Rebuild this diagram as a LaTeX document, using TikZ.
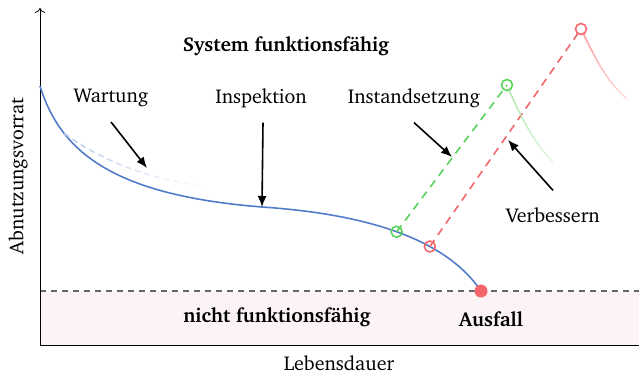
\documentclass[tikz,border=0pt]{standalone}
\usepackage[T1]{fontenc}
\usepackage{charter}
\usetikzlibrary{arrows.meta,fadings}

\definecolor{kurve}{RGB}{82,124,200}
\definecolor{gruen}{RGB}{88,210,88}
\definecolor{rot}{RGB}{245,102,108}
\definecolor{rosa}{RGB}{252,244,244}

\tikzfading[name=fadedown, top color=transparent!0, bottom color=transparent!70]
\tikzfading[name=faderight, left color=transparent!0, right color=transparent!100]

\begin{document}
\begin{tikzpicture}[x=0.5pt,y=-0.5pt,
  pfeil/.style={thick,-{Latex[length=5.5pt,width=4.5pt]}},
  marke/.style={circle,draw,line width=0.8pt,minimum size=5.5pt,inner sep=0pt},
  fett/.style={font=\bfseries},
  strich/.style={thick,dash pattern=on 4pt off 3pt}]
\useasboundingbox (0,0) rectangle (639,374);

% Bereich nicht funktionsfaehig
\fill[rosa] (40,291) rectangle (639,345);
\draw[gray!80!black,line width=0.7pt,dash pattern=on 3pt off 2.5pt] (40,291) -- (639,291);

% Achsen
\coordinate (ursprung) at (40,345);
\coordinate (yende) at (40,8);
\coordinate (xende) at (645,345);
\draw[->] (ursprung) -- (yende);
\draw[->] (ursprung) -- (xende);
\node (xlabel) at (339,363) {Lebensdauer};
\node[rotate=90] (ylabel) at (18,176) {Abnutzungsvorrat};

% Abnutzungskurve
\coordinate (anfang) at (40,86);
\coordinate (mitte) at (262,207);
\coordinate (pausfall) at (481,291);
\coordinate (pg2) at (507,85);
\coordinate (pr2) at (581,29);
\draw[kurve,thick] (anfang) .. controls (60,150) and (110,195) .. (mitte)
  coordinate[pos=0.27] (abzweig)
  .. controls (365,214) and (445,238) .. (pausfall)
  coordinate[pos=0.5] (pg1) coordinate[pos=0.66] (pr1);
\draw[kurve!40,thick,dash pattern=on 3pt off 2pt,path fading=faderight] (abzweig) .. controls (100,160) and (150,180) .. (205,186);

% Instandsetzung und Verbessern
\draw[gruen,strich] (pg1) -- (pg2);
\draw[rot,strich] (pr1) -- (pr2);
\draw[gruen!50,thick,path fading=fadedown] (509,90) .. controls (520,115) and (533,142) .. (553,162);
\draw[rot!65,thick,path fading=fadedown] (583,33) .. controls (594,55) and (605,80) .. (627,99);

\node[marke,gruen] (g1) at (pg1) {};
\node[marke,rot] (r1) at (pr1) {};
\node[marke,gruen] (g2) at (pg2) {};
\node[marke,rot] (r2) at (pr2) {};
\node[circle,fill=rot,minimum size=6.5pt,inner sep=0pt] (ausfall) at (pausfall) {};

% Beschriftungen
\node[fett] (funktion) at (286,46) {System funktionsf\"ahig};
\node[fett] (nichtfunktion) at (277,317) {nicht funktionsf\"ahig};
\node[fett] (ausfalltext) at (491,319) {Ausfall};
\node (wartung) at (111,98) {Wartung};
\node (inspektion) at (261,98) {Inspektion};
\node (instand) at (414,98) {Instandsetzung};
\node (verbessern) at (553,215) {Verbessern};

\coordinate (wspitze) at (147,168);
\coordinate (ispitze) at (262,207);
\coordinate (instspitze) at (452,157);
\coordinate (vspitze) at (508,140);
\draw[pfeil] ([yshift=-4pt]wartung.south) -- (wspitze);
\draw[pfeil] ([yshift=-4pt,xshift=1pt]inspektion.south) -- (ispitze);
\draw[pfeil] ([yshift=-4pt]instand.south) -- (instspitze);
\draw[pfeil] ([yshift=5pt]verbessern.north) -- (vspitze);
\end{tikzpicture}
\end{document}
